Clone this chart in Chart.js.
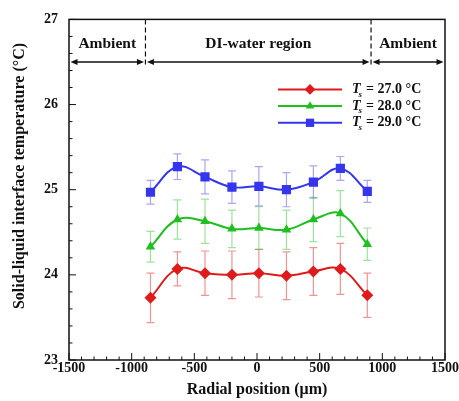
<!DOCTYPE html>
<html>
<head>
<meta charset="utf-8">
<script src="https://cdn.jsdelivr.net/npm/chart.js@4"></script>
<style>
  html, body { margin: 0; padding: 0; background: #fff; }
  #wrap { width: 459px; height: 401px; position: relative; }
</style>
</head>
<body>
<div id="wrap"><canvas id="chart"></canvas></div>
<script>
// radial positions (um)
const xPos = [-850, -635, -415, -200, 15, 235, 450, 665, 880];

// interface temperature (C) and error (+/-) for each substrate temperature
const t27 = [23.73, 24.07, 24.02, 24.00, 24.02, 23.99, 24.04, 24.07, 23.76];
const t27Err = [0.29, 0.20, 0.26, 0.28, 0.28, 0.28, 0.28, 0.30, 0.26];
const t28 = [24.33, 24.65, 24.63, 24.54, 24.55, 24.53, 24.65, 24.72, 24.36];
const t28Err = [0.18, 0.23, 0.26, 0.22, 0.25, 0.23, 0.26, 0.27, 0.19];
const t29 = [24.97, 25.27, 25.15, 25.03, 25.04, 25.00, 25.09, 25.25, 24.98];
const t29Err = [0.14, 0.15, 0.20, 0.19, 0.23, 0.20, 0.19, 0.14, 0.13];

const seriesLabels = ['27.0', '28.0', '29.0'];

// region annotation along the top
const xRange = [-1500, 1500];
const yRange = [23, 27];
const regionBounds = [-890, 910];
const regionNames = ['Ambient', 'DI-water region', 'Ambient'];
const arrowLevel = 26.5;
const dashBottom = 26.44;

const yTitle = 'Solid-liquid interface temperature (\u00B0C)';
const FONT = '"Liberation Serif", "Times New Roman", serif';

const series = [
  { vals: t27, err: t27Err, color: '#e01a1a', bar: 'rgba(225,60,60,0.55)', style: 'rectRot', r: 6 },
  { vals: t28, err: t28Err, color: '#1fbf1f', bar: 'rgba(60,200,60,0.5)', style: 'triangle', r: 5.5 },
  { vals: t29, err: t29Err, color: '#3535ee', bar: 'rgba(80,80,240,0.5)', style: 'rect', r: 6.5 }
];

const datasets = series.map((s, i) => ({
  label: seriesLabels[i],
  data: xPos.map((x, k) => ({ x: x, y: s.vals[k] })),
  borderColor: s.color,
  backgroundColor: s.color,
  borderWidth: 2,
  pointStyle: s.style,
  pointRadius: s.r,
  pointBorderWidth: 0,
  tension: 0.4,
  showLine: true,
  errors: s.err,
  barColor: s.bar
}));

const errorBars = {
  id: 'errorBars',
  beforeDatasetsDraw(chart) {
    const ctx = chart.ctx;
    const xs = chart.scales.x, ys = chart.scales.y;
    ctx.save();
    chart.data.datasets.forEach(ds => {
      ctx.strokeStyle = ds.barColor;
      ctx.lineWidth = 1.2;
      ds.data.forEach((p, k) => {
        const px = xs.getPixelForValue(p.x);
        const top = ys.getPixelForValue(p.y + ds.errors[k]);
        const bot = ys.getPixelForValue(p.y - ds.errors[k]);
        ctx.beginPath();
        ctx.moveTo(px, top); ctx.lineTo(px, bot);
        ctx.moveTo(px - 4, top); ctx.lineTo(px + 4, top);
        ctx.moveTo(px - 4, bot); ctx.lineTo(px + 4, bot);
        ctx.stroke();
      });
    });
    ctx.restore();
  }
};

function arrowHead(ctx, x, y, dir) {
  ctx.beginPath();
  ctx.moveTo(x, y);
  ctx.lineTo(x - dir * 7, y - 3);
  ctx.lineTo(x - dir * 7, y + 3);
  ctx.closePath();
  ctx.fill();
}

const frame = {
  id: 'frame',
  afterDraw(chart) {
    const ctx = chart.ctx;
    const a = chart.chartArea;
    const xs = chart.scales.x, ys = chart.scales.y;
    ctx.save();
    ctx.strokeStyle = '#111';
    ctx.fillStyle = '#111';

    // box
    ctx.lineWidth = 1.5;
    ctx.strokeRect(a.left, a.top, a.right - a.left, a.bottom - a.top);

    // inward ticks
    ctx.lineWidth = 1;
    ctx.beginPath();
    for (let v = xRange[0]; v <= xRange[1]; v += 100) {
      const px = xs.getPixelForValue(v);
      const len = v % 500 === 0 ? 7 : 3.5;
      ctx.moveTo(px, a.bottom); ctx.lineTo(px, a.bottom - len);
    }
    for (let i = 0; i <= 20; i++) {
      const v = yRange[0] + i * 0.2;
      const py = ys.getPixelForValue(v);
      const len = i % 5 === 0 ? 7 : 3.5;
      ctx.moveTo(a.left, py); ctx.lineTo(a.left + len, py);
    }
    ctx.stroke();

    // region boundaries (dashed)
    const yTop = ys.getPixelForValue(yRange[1]);
    const yDash = ys.getPixelForValue(dashBottom);
    ctx.setLineDash([5, 3]);
    ctx.lineWidth = 1.2;
    regionBounds.forEach(b => {
      const px = xs.getPixelForValue(b);
      ctx.beginPath(); ctx.moveTo(px, yTop); ctx.lineTo(px, yDash); ctx.stroke();
    });
    ctx.setLineDash([]);

    // arrows
    const yA = ys.getPixelForValue(arrowLevel);
    const edges = [xRange[0], regionBounds[0], regionBounds[1], xRange[1]];
    ctx.lineWidth = 1.3;
    for (let i = 0; i < 3; i++) {
      const x1 = xs.getPixelForValue(edges[i]) + 1.5;
      const x2 = xs.getPixelForValue(edges[i + 1]) - 1.5;
      ctx.beginPath(); ctx.moveTo(x1 + 3, yA); ctx.lineTo(x2 - 3, yA); ctx.stroke();
      arrowHead(ctx, x1, yA, -1);
      arrowHead(ctx, x2, yA, 1);
    }

    // region labels
    ctx.font = 'bold 15.5px ' + FONT;
    ctx.textAlign = 'center';
    ctx.textBaseline = 'middle';
    const yL = yA - 18;
    for (let i = 0; i < 3; i++) {
      const cx = (xs.getPixelForValue(edges[i]) + xs.getPixelForValue(edges[i + 1])) / 2;
      ctx.fillText(regionNames[i], cx, yL);
    }

    // legend
    const lx1 = a.left + 209, lx2 = a.left + 273, tx = a.left + 283;
    chart.data.datasets.forEach((ds, i) => {
      const ly = a.top + 70 + i * 16.7;
      ctx.strokeStyle = ds.borderColor;
      ctx.fillStyle = ds.backgroundColor;
      ctx.lineWidth = 2;
      ctx.beginPath(); ctx.moveTo(lx1, ly); ctx.lineTo(lx2, ly); ctx.stroke();
      Chart.helpers.drawPoint(ctx, {
        pointStyle: ds.pointStyle, radius: ds.pointRadius * 0.9, rotation: 0, borderWidth: 0
      }, (lx1 + lx2) / 2, ly);
      ctx.fillStyle = '#111';
      ctx.textAlign = 'left';
      ctx.font = 'italic bold 14px ' + FONT;
      ctx.fillText('T', tx, ly);
      const wT = ctx.measureText('T').width;
      ctx.font = 'italic bold 9px ' + FONT;
      ctx.fillText('s', tx + wT - 2, ly + 5);
      ctx.font = 'bold 14px ' + FONT;
      ctx.fillText(' = ' + ds.label + ' \u00B0C', tx + wT + 2, ly);
    });

    // y-axis title
    ctx.save();
    ctx.translate(20, 176);
    ctx.rotate(-Math.PI / 2);
    ctx.textAlign = 'center';
    ctx.font = 'bold 16px ' + FONT;
    ctx.fillText(yTitle, 0, 0);
    ctx.restore();

    ctx.restore();
  }
};

Chart.defaults.font.family = FONT;
Chart.defaults.color = '#111';

new Chart(document.getElementById('chart'), {
  type: 'scatter',
  data: { datasets: datasets },
  options: {
    responsive: true,
    maintainAspectRatio: false,
    animation: false,
    layout: { padding: { top: 18, right: 14, left: 0, bottom: 0 } },
    plugins: { legend: { display: false }, tooltip: { enabled: false } },
    scales: {
      x: {
        type: 'linear',
        min: xRange[0], max: xRange[1],
        grid: { display: false, drawTicks: false },
        border: { display: false },
        ticks: { stepSize: 500, padding: 0, font: { size: 14, weight: 'bold' }, callback: v => String(v) },
        title: { display: true, text: 'Radial position (\u03BCm)', font: { size: 16, weight: 'bold' }, padding: { top: 0, bottom: 2 } },
        afterFit: s => { s.height = 41; }
      },
      y: {
        min: yRange[0], max: yRange[1],
        grid: { display: false, drawTicks: false },
        border: { display: false },
        ticks: { stepSize: 1, padding: 11, font: { size: 14, weight: 'bold' }, callback: v => String(v) },
        afterFit: s => { s.width = 69; }
      }
    }
  },
  plugins: [errorBars, frame]
});
</script>
</body>
</html>
